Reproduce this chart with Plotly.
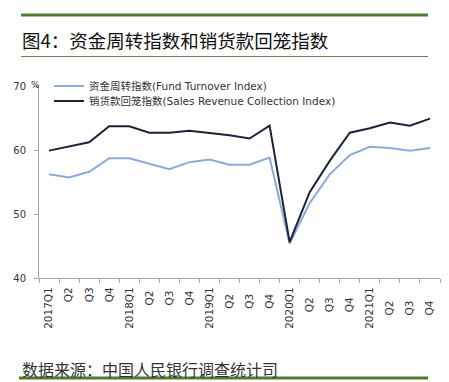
import plotly.graph_objects as go

quarters = ["2017Q1", "Q2", "Q3", "Q4", "2018Q1", "Q2 ", "Q3 ", "Q4 ",
            "2019Q1", "Q2  ", "Q3  ", "Q4  ", "2020Q1", "Q2   ", "Q3   ", "Q4   ",
            "2021Q1", "Q2    ", "Q3    ", "Q4    "]
fund_turnover = [56.2, 55.7, 56.6, 58.7, 58.7, 57.8, 57.0, 58.1, 58.5, 57.7,
                 57.7, 58.8, 45.4, 51.7, 56.2, 59.2, 60.5, 60.3, 59.9, 60.3]
sales_collection = [59.9, 60.5, 61.2, 63.7, 63.7, 62.7, 62.7, 63.0, 62.7, 62.3,
                    61.8, 63.8, 45.6, 53.4, 58.3, 62.7, 63.4, 64.3, 63.8, 64.9]
y_ticks = [40, 50, 60, 70]

names = ["资金周转指数(Fund Turnover Index)", "销货款回笼指数(Sales Revenue Collection Index)"]

W, H = 449, 382
L, R, T, B = 39, 9, 86, 104


def ax(xpix):
    return (xpix - L) / (W - L - R)


def ay(ypix):
    return (H - B - ypix) / (H - T - B)


fig = go.Figure()
fig.add_trace(go.Scatter(x=quarters, y=fund_turnover, mode="lines", name=names[0],
                         line=dict(color="#8eaad8", width=2), legend="legend"))
fig.add_trace(go.Scatter(x=quarters, y=sales_collection, mode="lines", name=names[1],
                         line=dict(color="#1b2338", width=2), legend="legend2"))

shapes = [
    dict(type="line", xref="paper", yref="paper", x0=ax(21), x1=ax(428),
         y0=ay(15), y1=ay(15), line=dict(color="#527a30", width=3)),
    dict(type="line", xref="paper", yref="paper", x0=ax(21), x1=ax(428),
         y0=ay(56.5), y1=ay(56.5), line=dict(color="#6a7f56", width=1)),
    dict(type="line", xref="paper", yref="paper", x0=ax(19), x1=ax(428),
         y0=ay(378), y1=ay(378), line=dict(color="#527a30", width=3)),
]

annotations = [
    dict(text="图4：资金周转指数和销货款回笼指数", xref="paper", yref="paper",
         x=ax(20), y=ay(40), xanchor="left", yanchor="middle", showarrow=False,
         font=dict(family="Noto Sans CJK SC", size=18.5, color="#111111")),
    dict(text="数据来源：中国人民银行调查统计司", xref="paper", yref="paper",
         x=ax(20), y=ay(369), xanchor="left", yanchor="middle", showarrow=False,
         font=dict(family="Noto Sans CJK SC", size=16, color="#333333")),
    dict(text="%", xref="paper", yref="paper",
         x=ax(29), y=ay(85), xanchor="left", yanchor="middle", showarrow=False,
         font=dict(family="DejaVu Sans", size=9, color="#333333")),
]

legend_font = dict(family="DejaVu Sans, Noto Sans CJK SC", size=10.5, color="#333333")

fig.update_layout(
    width=W, height=H,
    margin=dict(l=L, r=R, t=T, b=B, pad=0),
    paper_bgcolor="white", plot_bgcolor="white",
    shapes=shapes, annotations=annotations,
    showlegend=True,
    legend=dict(x=ax(49), y=ay(86), xanchor="left", yanchor="middle",
                bgcolor="rgba(0,0,0,0)", itemwidth=30, font=legend_font),
    legend2=dict(x=ax(49), y=ay(101), xanchor="left", yanchor="middle",
                 bgcolor="rgba(0,0,0,0)", itemwidth=30, font=legend_font),
    xaxis=dict(type="category", range=[-0.5, 19.5], showgrid=False, zeroline=False,
               showline=True, linecolor="#a6a6a6", linewidth=1,
               ticks="outside", ticklen=4, tickcolor="#a6a6a6", tickson="boundaries",
               tickangle=-90, ticklabelstandoff=4,
               tickfont=dict(family="DejaVu Sans", size=10.5, color="#333333")),
    yaxis=dict(range=[40, 70], tickvals=y_ticks, showgrid=False, zeroline=False,
               showline=True, linecolor="#a6a6a6", linewidth=1,
               ticks="outside", ticklen=4, tickcolor="#a6a6a6", ticklabelstandoff=6,
               tickfont=dict(family="DejaVu Sans", size=10, color="#333333")),
)

fig.write_html("out.html", config={"displayModeBar": False},
               post_script="document.body.style.margin='0px';")
